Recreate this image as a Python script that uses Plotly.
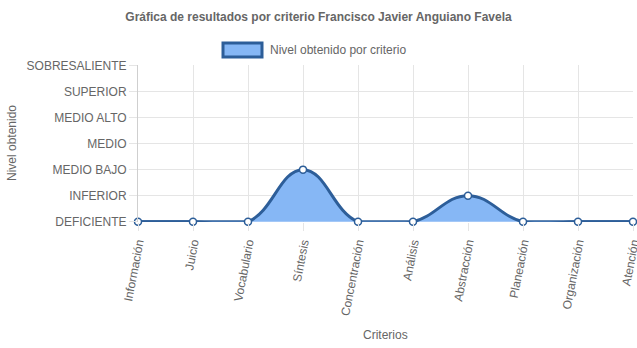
import plotly.graph_objects as go

criterios = ["Información", "Juicio", "Vocabulario", "Síntesis", "Concentración",
             "Análisis", "Abstracción", "Planeación", "Organización", "Atención"]
niveles_valores = [0, 0, 0, 2, 0, 0, 1, 0, 0, 0]
niveles_etiquetas = ["DEFICIENTE", "INFERIOR", "MEDIO BAJO", "MEDIO", "MEDIO ALTO",
                     "SUPERIOR", "SOBRESALIENTE"]
serie_nombre = "Nivel obtenido por criterio"
titulo = "Gráfica de resultados por criterio Francisco Javier Anguiano Favela"

LINE = "#2d5e99"
FILL = "rgb(134,183,245)"
GRID = "#e5e5e5"
TXT = "#666666"
FONT = "Liberation Sans, Arial, sans-serif"

xs = list(range(len(criterios)))
base = min(niveles_valores)
# flat stretches at the lowest level (Chart.js clamps its bezier there)
tramos_planos = [v if v == base else None for v in niveles_valores]

fig = go.Figure()
fig.add_trace(go.Scatter(
    x=xs, y=tramos_planos, mode="lines", connectgaps=False,
    line=dict(color=LINE, width=3), hoverinfo="skip", showlegend=False,
))
fig.add_trace(go.Scatter(
    x=xs, y=niveles_valores, name=serie_nombre,
    mode="lines+markers", fill="tozeroy", fillcolor=FILL,
    line=dict(color=LINE, width=3, shape="spline", smoothing=1.25),
    marker=dict(size=7, color="white", line=dict(color=LINE, width=1.5)),
    cliponaxis=False, showlegend=False,
))

fig.update_layout(
    width=637, height=348,
    margin=dict(l=138, r=4, t=65, b=126, pad=0, autoexpand=False),
    paper_bgcolor="white", plot_bgcolor="white",
    font=dict(family=FONT, size=12, color=TXT),
    title=dict(text="<b>" + titulo + "</b>", x=0.5, xref="container", xanchor="center",
               y=1 - 17 / 348, yref="container", yanchor="middle",
               font=dict(size=12, color=TXT, family=FONT)),
    showlegend=False,
    xaxis=dict(
        range=[0, len(criterios) - 1], automargin=False,
        tickvals=xs, ticktext=criterios,
        tickangle=-79, tickfont=dict(size=12, color=TXT, family=FONT),
        ticklabeloverflow="allow",
        showgrid=True, gridcolor=GRID, gridwidth=1,
        ticks="outside", ticklen=8, tickcolor=GRID,
        zeroline=False, showline=False,
    ),
    yaxis=dict(
        range=[-0.012, 6.02], automargin=False,
        tickvals=list(range(len(niveles_etiquetas))), ticktext=niveles_etiquetas,
        tickfont=dict(size=12, color=TXT, family=FONT),
        showgrid=True, gridcolor=GRID, gridwidth=1,
        ticks="outside", ticklen=8, tickcolor=GRID,
        zeroline=False, showline=True, linecolor="#cfcfcf", linewidth=1,
    ),
)

# axis titles
fig.add_annotation(text="Criterios", xref="paper", yref="paper",
                   x=(385 - 138) / 495, y=(348 - 126 - 335) / 157,
                   xanchor="center", yanchor="middle", showarrow=False,
                   font=dict(size=12, color=TXT, family=FONT))
fig.add_annotation(text="Nivel obtenido", xref="paper", yref="paper",
                   x=(12 - 138) / 495, y=(348 - 126 - 143) / 157, textangle=-90,
                   xanchor="center", yanchor="middle", showarrow=False,
                   font=dict(size=12, color=TXT, family=FONT))

# Chart.js-style legend box
fig.add_shape(type="rect", xref="paper", yref="paper",
              x0=(223 - 138) / 495, x1=(262 - 138) / 495,
              y0=(348 - 126 - 57) / 157, y1=(348 - 126 - 43) / 157,
              fillcolor=FILL, line=dict(color=LINE, width=3))
fig.add_annotation(text=serie_nombre, xref="paper", yref="paper",
                   x=(268 - 138) / 495, y=(348 - 126 - 50) / 157,
                   xanchor="left", yanchor="middle", showarrow=False,
                   font=dict(size=12, color=TXT, family=FONT))

fig.write_html("out.html")
